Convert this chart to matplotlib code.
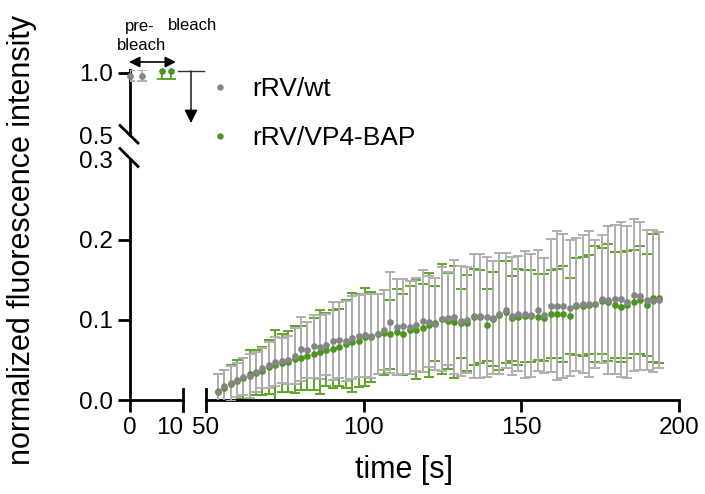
import matplotlib
matplotlib.use("Agg")
import matplotlib.pyplot as plt
from matplotlib.lines import Line2D

plt.rcParams['font.family'] = ['Liberation Sans', 'DejaVu Sans']

# ---------------- data ----------------
pre_t_wt = [0.0, 2.2]
pre_mean_wt = [0.975, 0.975]
pre_sd_wt = [0.045, 0.045]
pre_t_vp4 = [6.1, 7.8]
pre_mean_vp4 = [1.01, 1.01]
pre_sd_vp4 = [0.06, 0.06]

time_s = [53.7, 55.7, 57.8, 59.8, 61.8, 63.9, 65.9, 67.9, 69.9, 72.0,
          74.0, 76.0, 78.1, 80.1, 82.1, 84.2, 86.2, 88.2, 90.2, 92.3,
          94.3, 96.3, 98.4, 100.4, 102.4, 104.5, 106.5, 108.5, 110.5, 112.6,
          114.6, 116.6, 118.7, 120.7, 122.7, 124.8, 126.8, 128.8, 130.8, 132.9,
          134.9, 136.9, 139.0, 141.0, 143.0, 145.1, 147.1, 149.1, 151.1, 153.2,
          155.2, 157.2, 159.3, 161.3, 163.3, 165.4, 167.4, 169.4, 171.4, 173.5,
          175.5, 177.5, 179.6, 181.6, 183.6, 185.7, 187.7, 189.7, 191.7, 193.8]

wt_mean = [.011, .017, .021, .025, .029, .030, .035, .040, .044, .048,
           .049, .050, .055, .064, .062, .067, .066, .069, .074, .075,
           .074, .078, .080, .081, .080, .083, .088, .097, .091, .092,
           .091, .094, .099, .098, .095, .101, .102, .104, .099, .100,
           .105, .105, .104, .103, .108, .112, .105, .108, .107, .106,
           .112, .106, .118, .118, .118, .115, .119, .120, .120, .120,
           .126, .125, .126, .126, .122, .131, .130, .125, .124, .125]
wt_sd = [.022, .021, .022, .021, .023, .028, .025, .025, .029, .031,
         .028, .030, .035, .040, .035, .039, .040, .038, .049, .048,
         .050, .052, .051, .052, .053, .050, .050, .063, .060, .059,
         .058, .058, .064, .057, .058, .065, .058, .071, .069, .066,
         .078, .078, .075, .071, .076, .072, .074, .072, .079, .077,
         .076, .072, .083, .093, .090, .085, .083, .086, .091, .080,
         .080, .092, .093, .097, .095, .095, .092, .088, .089, .085]

vp4_mean = [.010, .015, .020, .024, .027, .032, .034, .036, .041, .044,
            .046, .048, .051, .053, .055, .058, .060, .063, .064, .066,
            .070, .072, .074, .079, .079, .083, .084, .082, .085, .082,
            .088, .088, .090, .094, .096, .101, .099, .097, .096, .096,
            .104, .104, .094, .101, .106, .110, .102, .104, .105, .105,
            .104, .103, .108, .108, .108, .105, .117, .117, .119, .120,
            .124, .122, .119, .116, .119, .122, .125, .119, .127, .128]
vp4_sd = [.022, .022, .024, .026, .026, .030, .028, .030, .034, .044,
          .036, .038, .042, .040, .042, .045, .052, .046, .049, .048,
          .055, .062, .058, .061, .056, .050, .053, .043, .054, .051,
          .055, .062, .055, .065, .047, .069, .060, .070, .043, .060,
          .060, .058, .045, .059, .068, .064, .053, .060, .058, .058,
          .054, .054, .055, .056, .060, .048, .061, .062, .062, .072,
          .066, .073, .066, .069, .067, .065, .068, .064, .080, .082]

series_labels = ["rRV/wt", "rRV/VP4-BAP"]
yticks_low = [0.0, 0.1, 0.2, 0.3]
yticks_up = [0.5, 1.0]
xticks_left = [0, 10]
xticks_right = [50, 100, 150, 200]

# ---------------- style ----------------
W, H = 705, 494
GRAY = '#858585'
GRAY_EB = '#b0b0b0'
GREEN = '#4a9620'
GREEN_EB = '#5ea62a'
TICK_FS = 17.5
LW_AX = 2.0


def rect(l, t, r, b):
    return [l / W, 1 - b / H, (r - l) / W, (b - t) / H]


fig = plt.figure(figsize=(W / 100, H / 100), dpi=100)
ax_ul = fig.add_axes(rect(130, 70.2, 183, 135))
ax_ll = fig.add_axes(rect(130, 160, 183, 400))
ax_lr = fig.add_axes(rect(206, 160, 679, 400))

for ax in (ax_ul, ax_ll, ax_lr):
    ax.patch.set_alpha(0)
    for s in ax.spines.values():
        s.set_linewidth(LW_AX)
    ax.spines['top'].set_visible(False)
    ax.spines['right'].set_visible(False)
    ax.tick_params(length=8.5, width=LW_AX, labelsize=TICK_FS, pad=4, color='black')

ax_ul.spines['bottom'].set_visible(False)
ax_lr.spines['left'].set_visible(False)

# limits
ax_ul.set_xlim(0, 10)
ax_ul.set_ylim(0.5, 1.02)
ax_ll.set_xlim(0, 10)
ax_ll.set_ylim(0, 0.3)
ax_lr.set_xlim(50, 200)
ax_lr.set_ylim(0, 0.3)

# ticks
ax_ul.set_xticks([])
ax_ul.set_yticks(yticks_up)
ax_ul.set_yticklabels([f"{v:.1f}" for v in yticks_up])
ax_ul.yaxis.get_major_ticks()[0].tick1line.set_visible(False)

ax_ll.set_yticks(yticks_low)
ax_ll.set_yticklabels([f"{v:.1f}" for v in yticks_low])
ax_ll.yaxis.get_major_ticks()[-1].tick1line.set_visible(False)
ax_ll.set_xticks(xticks_left)
ax_ll.set_xticklabels([str(v) for v in xticks_left])
ax_ll.xaxis.get_major_ticks()[-1].tick1line.set_visible(False)
# "10" label sits just left of the "50" label (they touch in the reference)
ax_ll.get_xticklabels()[-1].set_horizontalalignment('right')

ax_lr.set_yticks([])
ax_lr.set_xticks(xticks_right)
ax_lr.set_xticklabels([str(v) for v in xticks_right])
ax_lr.xaxis.get_major_ticks()[0].tick1line.set_visible(False)

# break bars on x axis
ax_ll.axvline(10, ymin=-0.046, ymax=0.046, color='black', lw=LW_AX, clip_on=False)
ax_lr.axvline(50, ymin=-0.046, ymax=0.046, color='black', lw=LW_AX, clip_on=False)

# y-axis break slashes
for (x0, y0, x1, y1) in [(120, 125.5, 138, 143), (120, 148.5, 138, 166.5)]:
    fig.add_artist(Line2D([x0 / W, x1 / W], [1 - y0 / H, 1 - y1 / H],
                          transform=fig.transFigure, color='black', lw=LW_AX))

# ---------------- data marks ----------------
eb_kw = dict(fmt='none', elinewidth=1.4, capsize=3.6, capthick=1.4)

# pre-bleach
ax_ul.errorbar(pre_t_vp4, pre_mean_vp4, yerr=pre_sd_vp4, ecolor=GREEN_EB, zorder=2, **eb_kw)
ax_ul.errorbar(pre_t_wt, pre_mean_wt, yerr=pre_sd_wt, ecolor=GRAY_EB, zorder=3, **eb_kw)
ax_ul.plot(pre_t_vp4, pre_mean_vp4, 'o', color=GREEN, ms=3.8, clip_on=False, zorder=4)
ax_ul.plot(pre_t_wt, pre_mean_wt, 'o', color=GRAY, ms=3.8, clip_on=False, zorder=5)

# recovery
ax_lr.errorbar(time_s, vp4_mean, yerr=vp4_sd, ecolor=GREEN_EB, zorder=2, **eb_kw)
ax_lr.errorbar(time_s, wt_mean, yerr=wt_sd, ecolor=GRAY_EB, zorder=3, **eb_kw)
ax_lr.plot(time_s, vp4_mean, 'o', color=GREEN, ms=3.8, zorder=4)
ax_lr.plot(time_s, wt_mean, 'o', color=GRAY, ms=3.8, zorder=5)

# ---------------- legend ----------------
handles = [Line2D([], [], ls='none', marker='o', ms=3.6, color=GRAY),
           Line2D([], [], ls='none', marker='o', ms=3.6, color=GREEN)]
fig.legend(handles, series_labels, loc='upper left',
           bbox_to_anchor=(206.5 / W, 1 - 77.0 / H), frameon=False,
           fontsize=19, handlelength=1.0, handletextpad=0.75,
           labelspacing=0.95, borderpad=0, borderaxespad=0)

# ---------------- annotations ----------------
def fp(x, y):
    return (x, H - y)

ax_ul.annotate('', xy=fp(176, 62), xytext=fp(129, 62), xycoords='figure pixels',
               textcoords='figure pixels',
               arrowprops=dict(arrowstyle='<|-|>', color='black', lw=1.2,
                               mutation_scale=16, shrinkA=0, shrinkB=0))
fig.add_artist(Line2D([178 / W, 204 / W], [1 - 71 / H, 1 - 71 / H],
                      transform=fig.transFigure, color='#333333', lw=1.0))
ax_ul.annotate('', xy=fp(191, 123), xytext=fp(191, 71), xycoords='figure pixels',
               textcoords='figure pixels',
               arrowprops=dict(arrowstyle='-|>', color='black', lw=1.0,
                               mutation_scale=20, shrinkA=0, shrinkB=0))
fig.text(140 / W, 1 - 27 / H, 'pre-', ha='center', va='center', fontsize=12)
fig.text(142 / W, 1 - 46 / H, 'bleach', ha='center', va='center', fontsize=12)
fig.text(193 / W, 1 - 25 / H, 'bleach', ha='center', va='center', fontsize=12)

# axis titles
fig.text(22 / W, 1 - 240 / H, 'normalized fluorescence intensity', rotation=90,
         ha='center', va='center', fontsize=22)
fig.text(404 / W, 1 - 470 / H, 'time [s]', ha='center', va='center', fontsize=22)

fig.savefig('out.png', dpi=100)
